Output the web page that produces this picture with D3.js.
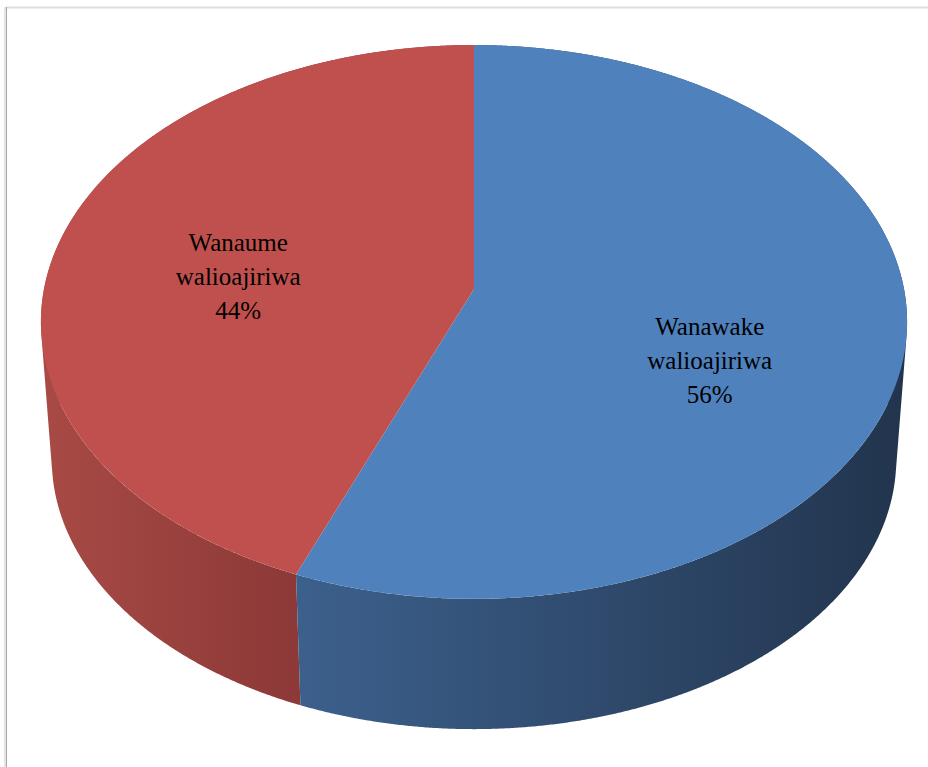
<!DOCTYPE html>
<html>
<head>
<meta charset="utf-8">
<script src="https://cdn.jsdelivr.net/npm/d3@7"></script>
<style>
  html, body { margin: 0; padding: 0; background: #ffffff; }
  svg { display: block; }
</style>
</head>
<body>
<script>
// ---- data ----
const categories = ["Wanawake walioajiriwa", "Wanaume walioajiriwa"];
const labelLines = [["Wanawake", "walioajiriwa"], ["Wanaume", "walioajiriwa"]];
const values = [56, 44];
const topColors = ["#4F81BD", "#C0504D"];
const sideLight = ["#3C608C", "#A84A46"];
const sideDark = ["#22344D", "#8C3937"];

const W = 928, H = 767;
const svg = d3.select("body").append("svg").attr("width", W).attr("height", H);

// frame
svg.append("rect").attr("x", 0).attr("y", 0).attr("width", W).attr("height", H).attr("fill", "#fff");
svg.append("line").attr("x1", 6).attr("x2", W).attr("y1", 7.5).attr("y2", 7.5)
  .attr("stroke", "#dedede").attr("stroke-width", 2);
svg.append("line").attr("x1", 5.5).attr("x2", 5.5).attr("y1", 7).attr("y2", H)
  .attr("stroke", "#e4e4e4").attr("stroke-width", 3);
svg.append("line").attr("x1", 6.5).attr("x2", 6.5).attr("y1", 7).attr("y2", H)
  .attr("stroke", "#a8a8a8").attr("stroke-width", 1);

// projection of a perspective-tilted disc
const cx = 474, cy = 289;
const A = 430, B = 273, k = 0.119;
const depth = 138, sBottom = 0.975;
function project(theta, r, level) {
  const u = r * Math.sin(theta), v = -r * Math.cos(theta);
  const den = 1 - k * v;
  const s = level ? sBottom : 1;
  const dy = level ? depth : 0;
  return [cx + s * A * u / den, cy + dy + s * B * v / den];
}

const pie = d3.pie().sort(null).value(d => d).startAngle(0).endAngle(2 * Math.PI);
const arcs = pie(values);
const total = d3.sum(values);

const defs = svg.append("defs");
arcs.forEach((a, i) => {
  const p0 = project(a.startAngle, 1, 0), p1 = project(a.endAngle, 1, 0);
  const xs = [];
  for (let t = a.startAngle; t <= a.endAngle; t += 0.01) {
    const th = Math.max(Math.PI / 2, Math.min(1.5 * Math.PI, t));
    xs.push(project(th, 1, 0)[0]);
  }
  const g = defs.append("linearGradient").attr("id", "side" + i)
    .attr("gradientUnits", "userSpaceOnUse")
    .attr("x1", d3.min(xs)).attr("x2", d3.max(xs)).attr("y1", 0).attr("y2", 0);
  // left lighter for blue (seam on left), red: left lighter too
  g.append("stop").attr("offset", 0).attr("stop-color", sideLight[i]);
  g.append("stop").attr("offset", 1).attr("stop-color", sideDark[i]);
});

// side walls: union of small quads in one path per slice
function sidePath(a) {
  const n = Math.max(2, Math.ceil((a.endAngle - a.startAngle) / 0.004));
  let d = "";
  for (let j = 0; j < n; j++) {
    const t0 = a.startAngle + (a.endAngle - a.startAngle) * j / n;
    const t1 = a.startAngle + (a.endAngle - a.startAngle) * (j + 1) / n;
    let pts = [project(t0, 1, 0), project(t1, 1, 0), project(t1, 1, 1), project(t0, 1, 1)];
    let area = 0;
    for (let q = 0; q < 4; q++) {
      const p = pts[q], r = pts[(q + 1) % 4];
      area += p[0] * r[1] - r[0] * p[1];
    }
    if (area < 0) pts = pts.reverse();
    d += "M" + pts.map(p => p[0].toFixed(2) + "," + p[1].toFixed(2)).join("L") + "Z";
  }
  return d;
}

// draw red (back-left) side first, then blue
const order = [1, 0];
order.forEach(i => {
  svg.append("path").attr("d", sidePath(arcs[i])).attr("fill", "url(#side" + i + ")")
    .attr("fill-rule", "nonzero");
});

// top faces
function topPath(a) {
  const n = Math.ceil((a.endAngle - a.startAngle) / 0.005);
  const pts = [project(0, 0, 0)];
  for (let j = 0; j <= n; j++) {
    const t = a.startAngle + (a.endAngle - a.startAngle) * j / n;
    pts.push(project(t, 1, 0));
  }
  return "M" + pts.map(p => p[0].toFixed(2) + "," + p[1].toFixed(2)).join("L") + "Z";
}
arcs.forEach((a, i) => {
  svg.append("path").attr("d", topPath(a)).attr("fill", topColors[i]);
});

// labels
const lcx = 474, lcy = 319, lrx = 240, lry = 222, lineH = 34;
arcs.forEach((a, i) => {
  const mid = (a.startAngle + a.endAngle) / 2;
  const x = lcx + lrx * Math.sin(mid);
  const y = lcy - lry * Math.cos(mid);
  const lines = labelLines[i].concat([Math.round(values[i] / total * 100) + "%"]);
  const t = svg.append("text").attr("text-anchor", "middle")
    .attr("font-family", "'Liberation Serif', 'Times New Roman', serif")
    .attr("font-size", 25).attr("fill", "#000");
  lines.forEach((ln, j) => {
    t.append("tspan").attr("x", x).attr("y", y + (j - 1) * lineH + 8).text(ln);
  });
});
</script>
</body>
</html>
